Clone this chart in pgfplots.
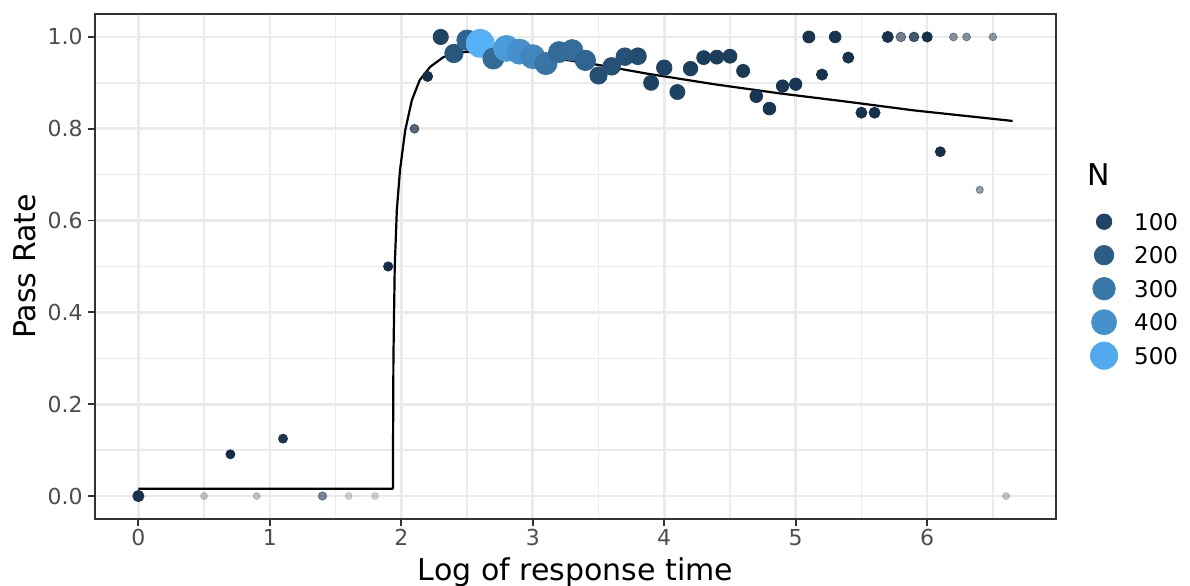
\documentclass[border=0pt]{standalone}
\usepackage{fontspec}
\setmainfont{DejaVu Sans}
\usepackage{pgfplots}
\usepackage{pgfplotstable}
\pgfplotsset{compat=1.18}

\definecolor{gridgray}{HTML}{EBEBEB}
\definecolor{framegray}{HTML}{333333}
\definecolor{tickgray}{HTML}{4D4D4D}
\definecolor{n100}{RGB}{32,68,101}
\definecolor{n200}{RGB}{44,93,135}
\definecolor{n300}{RGB}{57,119,169}
\definecolor{n400}{RGB}{70,144,203}
\definecolor{n500}{RGB}{82,169,237}

% x = log response time, y = pass rate, N = count, a = alpha
\pgfplotstableread{
x    y      N    a
0.0  0.000  31   1
0.5  0.000  1    0.25
0.7  0.0909 10   1
0.9  0.000  1    0.25
1.1  0.125  10   0.95
1.4  0.000  6    0.55
1.6  0.000  1    0.2
1.8  0.000  1    0.2
1.9  0.500  12   1
2.1  0.800  9    0.7
2.2  0.914  18   1
2.3  1.000  95   1
2.4  0.964  170  1
2.5  0.993  230  1
2.6  0.986  530  1
2.7  0.953  250  1
2.8  0.975  440  1
2.9  0.968  400  1
3.0  0.957  360  1
3.1  0.942  290  1
3.2  0.967  250  1
3.3  0.971  260  1
3.4  0.949  230  1
3.5  0.916  140  1
3.6  0.936  150  1
3.7  0.957  150  1
3.8  0.958  130  1
3.9  0.900  90   1
4.0  0.933  100  1
4.1  0.880  90   1
4.2  0.931  80   1
4.3  0.955  70   1
4.4  0.956  70   1
4.5  0.958  70   1
4.6  0.926  55   1
4.7  0.871  50   1
4.8  0.844  50   1
4.9  0.893  45   1
5.0  0.897  45   1
5.1  1.000  40   1
5.2  0.918  30   1
5.3  1.000  35   1
5.4  0.955  30   1
5.5  0.835  28   1
5.6  0.835  28   1
5.7  1.000  30   1
5.8  1.000  15   0.6
5.9  1.000  15   0.8
6.0  1.000  20   1
6.1  0.750  18   1
6.2  1.000  4    0.5
6.3  1.000  4    0.5
6.4  0.667  2    0.45
6.5  1.000  3    0.45
6.6  0.000  1    0.25
}\passdata

% fitted group-level curve
\pgfplotstableread{
x     y
0.000 0.016
1.936 0.016
1.937 0.100
1.940 0.300
1.950 0.500
1.966 0.623
1.990 0.710
2.030 0.797
2.080 0.862
2.140 0.906
2.220 0.935
2.320 0.956
2.470 0.967
2.680 0.971
2.930 0.964
3.180 0.953
3.440 0.942
3.870 0.920
4.380 0.897
4.880 0.877
5.390 0.859
5.900 0.840
6.650 0.817
}\fitcurve

\begin{document}
\begin{tikzpicture}
\begin{axis}[
    width=480.5pt, height=252.5pt, scale only axis,
    xmin=-0.33, xmax=6.98, ymin=-0.05, ymax=1.05,
    xtick={0,1,2,3,4,5,6},
    ytick={0,0.2,0.4,0.6,0.8,1},
    minor xtick={0.5,1.5,2.5,3.5,4.5,5.5,6.5},
    minor ytick={0.1,0.3,0.5,0.7,0.9},
    grid=both,
    major grid style={gridgray, line width=1.3pt},
    minor grid style={gridgray, line width=0.7pt},
    minor tick length=0pt,
    major tick length=3.5pt,
    tick align=outside,
    tick pos=left,
    major tick style={framegray, line width=0.9pt},
    axis line style={framegray, line width=1pt},
    /pgf/number format/assume math mode=true,
    y tick label style={/pgf/number format/fixed, /pgf/number format/fixed zerofill,
      /pgf/number format/precision=1},
    ticklabel style={font=\fontsize{11}{13}\selectfont, text=tickgray, inner sep=0pt},
    xticklabel style={anchor=north, yshift=-1.5pt},
    yticklabel style={anchor=east, xshift=-2.5pt},
    xlabel={Log of response time},
    ylabel={Pass Rate},
    label style={font=\fontsize{15}{18}\selectfont},
    xlabel style={at={(axis description cs:0.5,0)}, anchor=base, yshift=-30.75pt},
    ylabel style={at={(axis description cs:-0.0624,0.5)}, anchor=base},
    colormap={ggblue}{rgb255(0cm)=(19,43,67); rgb255(1cm)=(86,177,247)},
    point meta min=1, point meta max=530,
    legend style={draw=none, fill=none, inner sep=0pt, outer sep=0pt,
      at={(axis description cs:1,1)}, anchor=north west,
      xshift=15.5pt, yshift=-99.65pt,
      row sep=8.35pt, column sep=6.5pt,
      font=\fontsize{11.5}{13}\selectfont,
      nodes={inner sep=0pt, text height=8.4pt, text depth=0pt}},
    legend cell align=left,
    legend image code/.code={
      \draw[#1, overlay] plot coordinates {(0.3cm,0pt)};
      \path[draw=none, fill=none] (0cm,-4.2pt) rectangle (0.6cm,4.2pt);
    },
]
\addplot[scatter, only marks, mark=*, forget plot,
    point meta=explicit,
    scatter/use mapped color={draw=mapped color, fill=mapped color},
    visualization depends on={1.5+0.2375*sqrt(\thisrow{N}) \as \msize},
    visualization depends on={\thisrow{a} \as \alp},
    scatter/@pre marker code/.append style={/tikz/mark size=\msize},
    scatter/@pre marker code/.append code={\pgfsetfillopacity{\alp}\pgfsetstrokeopacity{\alp}},
  ] table[x=x, y=y, meta=N] {\passdata};

\addplot[black, line width=1.1pt, line join=round, forget plot] table[x=x, y=y] {\fitcurve};

\addlegendimage{only marks, mark=*, mark size=3.875pt, color=n100}
\addlegendentry{100}
\addlegendimage{only marks, mark=*, mark size=4.86pt, color=n200}
\addlegendentry{200}
\addlegendimage{only marks, mark=*, mark size=5.61pt, color=n300}
\addlegendentry{300}
\addlegendimage{only marks, mark=*, mark size=6.25pt, color=n400}
\addlegendentry{400}
\addlegendimage{only marks, mark=*, mark size=6.81pt, color=n500}
\addlegendentry{500}
\end{axis}
\node[anchor=base west, inner sep=0pt, font=\fontsize{15}{18}\selectfont]
  at ([xshift=15.5pt, yshift=-86pt]current axis.north east) {N};
\pgfresetboundingbox
\path[use as bounding box] ([xshift=-47.5pt, yshift=-33.5pt]current axis.south west)
  rectangle ([xshift=67pt, yshift=7pt]current axis.north east);
\end{tikzpicture}
\end{document}
